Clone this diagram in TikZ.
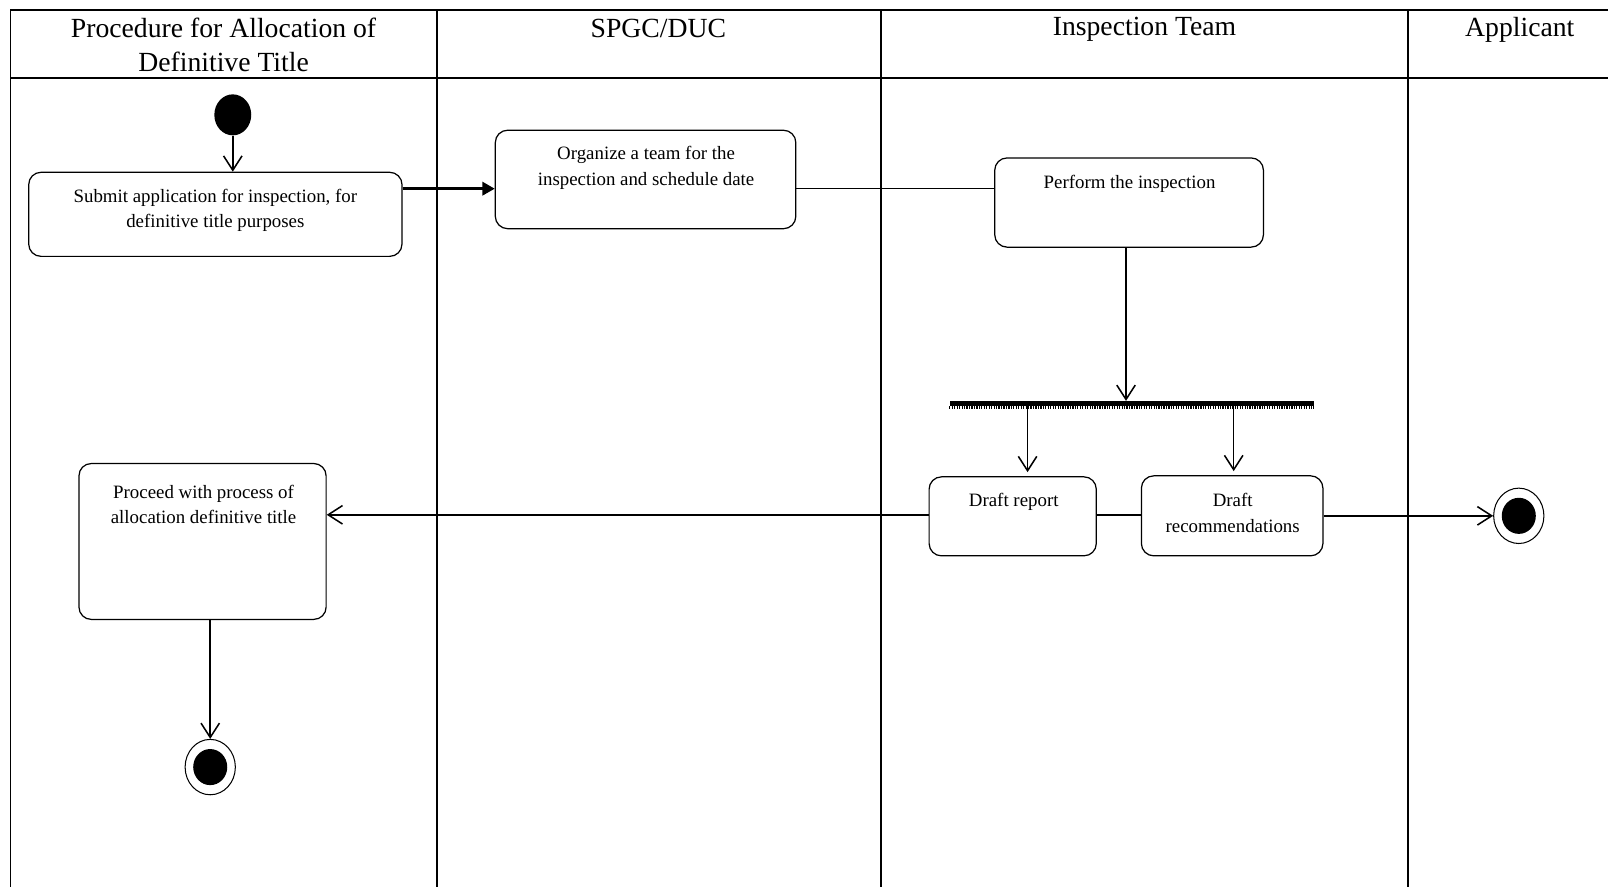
\documentclass[tikz,border=0pt]{standalone}
\usepackage{fontspec}
\setmainfont{Liberation Serif}
\usetikzlibrary{arrows.meta,shapes.geometric}
\begin{document}
\begin{tikzpicture}[x=0.5pt,y=-0.5pt,
  frame/.style={line width=1pt},
  lane/.style={line width=0.7pt},
  actbox/.style={draw, rounded corners=6pt, line width=0.6pt, inner sep=0pt},
  boxtext/.style={font=\fontsize{9.2}{12.5}\selectfont, align=center, inner sep=0pt},
  headtext/.style={font=\fontsize{13.5}{16.5}\selectfont, align=center, inner sep=0pt},
  flow/.style={line width=0.75pt, -{Straight Barb[length=7pt,width=9pt,line width=0.75pt]}},
  link/.style={line width=0.75pt},
  push/.style={line width=1.2pt, -{Triangle[length=6pt,width=6.5pt]}},
  startnode/.style={ellipse, fill, minimum width=18pt, minimum height=20pt, inner sep=0pt},
  endnode/.style={ellipse, draw, line width=0.5pt, minimum width=24.5pt, minimum height=27pt, inner sep=0pt,
    path picture={\fill (path picture bounding box.center) ellipse (8.3pt and 8.8pt);}},
  forkbar/.style={fill, minimum width=177.5pt, minimum height=2.2pt, inner sep=0pt}
]
\useasboundingbox (0,0) rectangle (1568,865);

% swimlane frame
\draw[frame] (10,10) -- (1568,10);
\draw[frame] (10,76) -- (1568,76);
\foreach \lx in {10,426,859,1373}
  \draw[lane] (\lx,10) -- (\lx,865);

% lane headings
\node[headtext] (h1) at (218,44) {Procedure for Allocation of\\Definitive Title};
\node[headtext] (h2) at (642,28) {SPGC/DUC};
\node[headtext] (h3) at (1116,29) {Inspection Team};
\node[headtext] (h4) at (1482,29) {Applicant};

% activities
\node[startnode] (start) at (227,112) {};
\node[actbox, minimum width=182pt, minimum height=41pt] (submit) at (210,209) {};
\node[boxtext] (submit-t) at (210,205) {Submit application for inspection, for\\definitive title purposes};

\node[actbox, minimum width=146.5pt, minimum height=48pt] (organize) at (629.5,175) {};
\node[boxtext] (organize-t) at (630,164) {Organize a team for the\\inspection and schedule date};

\node[actbox, minimum width=131pt, minimum height=43.5pt] (perform) at (1101,197.5) {};
\node[boxtext] (perform-t) at (1101.5,179) {Perform the inspection};

\node[forkbar] (fork) at (1103.5,393.5) {};
\draw[line width=1.2pt, dash pattern=on 0.6pt off 0.6pt]
  ([yshift=-0.6pt]fork.south west) -- ([yshift=-0.6pt]fork.south east);

\node[actbox, minimum width=81.5pt, minimum height=38.5pt] (draftrep) at (987.5,503.5) {};
\node[boxtext] (draftrep-t) at (988.5,489) {Draft report};

\node[actbox, minimum width=88.5pt, minimum height=39pt] (draftrec) at (1201.5,503) {};
\node[boxtext] (draftrec-t) at (1202,500) {Draft\\recommendations};

\node[actbox, minimum width=120.5pt, minimum height=76pt] (proceed) at (197.5,528) {};
\node[boxtext] (proceed-t) at (198.5,492) {Proceed with process of\\allocation definitive title};

\node[endnode] (end1) at (205,748) {};
\node[endnode] (end2) at (1481,503) {};

% connectors
\coordinate (r1) at (0,184);
\coordinate (r2) at (0,502);
\coordinate (c0) at (1098,0);
\coordinate (c1) at (1002,0);
\coordinate (c2) at (1203,0);

\draw[flow] (start.south) -- (start.south |- submit.north);
\draw[push] (submit.east |- r1) -- (organize.west |- r1);
\draw[link] (organize.east |- r1) -- (perform.west |- r1);
\draw[flow] (perform.south -| c0) -- (fork.north -| c0);
\draw[flow] (fork.south -| c1) -- ([yshift=2pt]draftrep.north -| c1);
\draw[flow] (fork.south -| c2) -- ([yshift=2pt]draftrec.north -| c2);
\draw[link] (draftrep.east |- r2) -- (draftrec.west |- r2);
\draw[flow] (draftrep.west |- r2) -- (proceed.east |- r2);
\draw[flow] (draftrec.east |- end2) -- (end2.west);
\draw[flow] (end1 |- proceed.south) -- (end1.north);
\end{tikzpicture}
\end{document}
